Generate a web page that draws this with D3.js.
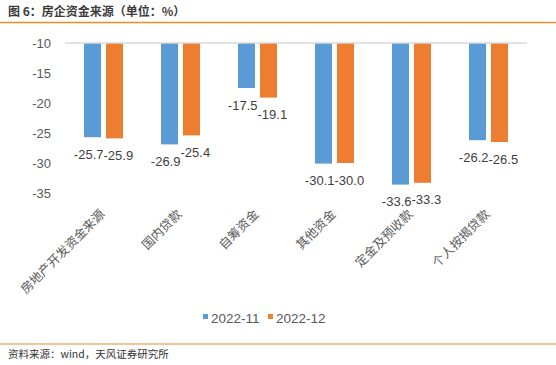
<!DOCTYPE html>
<html>
<head>
<meta charset="utf-8">
<script src="https://cdn.jsdelivr.net/npm/d3@7"></script>
<style>
  body { margin: 0; background: #fff; }
  text { font-family: "Noto Sans CJK SC", "DejaVu Sans", sans-serif; }
  text.num { font-family: "Liberation Sans", Arial, sans-serif; }
</style>
</head>
<body>
<svg id="chart" width="556" height="365"></svg>
<script>
const categories = ["房地产开发资金来源", "国内贷款", "自筹资金", "其他资金", "定金及预收款", "个人按揭贷款"];
const seriesNames = ["2022-11", "2022-12"];
const values_2022_11 = [-25.7, -26.9, -17.5, -30.1, -33.6, -26.2];
const values_2022_12 = [-25.9, -25.4, -19.1, -30.0, -33.3, -26.5];
const yTicks = [-10, -15, -20, -25, -30, -35];
const colors = ["#5B9BD5", "#ED7D31"];

const svg = d3.select("#chart");
const margin = { left: 65, right: 29 };
const W = 556;

// title + top rule
svg.append("text")
    .attr("x", 8).attr("y", 16)
    .attr("font-size", 12).attr("font-weight", "bold")
    .attr("fill", "#3a3a3a")
    .text("图 6：房企资金来源（单位：%）");
svg.append("line")
    .attr("x1", 0).attr("x2", W).attr("y1", 22.5).attr("y2", 22.5)
    .attr("stroke", "#F08A24").attr("stroke-width", 1.5);

const x0 = d3.scaleBand().domain(categories)
    .range([margin.left, W - margin.right]);
const x1 = d3.scaleBand().domain(seriesNames)
    .range([x0.bandwidth() / 2 - 19.5, x0.bandwidth() / 2 + 19.5]).paddingInner(0.227);
const y = d3.scaleLinear().domain([-10, -35]).range([43, 193]);

// y tick labels
svg.append("g").selectAll("text").data(yTicks).enter().append("text")
    .classed("num", true)
    .attr("x", 51).attr("y", d => y(d) + 5)
    .attr("text-anchor", "end")
    .attr("font-size", 13).attr("fill", "#595959")
    .text(d => d);

const data = categories.map((c, i) => ({
    cat: c,
    vals: [values_2022_11[i], values_2022_12[i]]
}));

const groups = svg.append("g").selectAll("g").data(data).enter().append("g")
    .attr("transform", d => "translate(" + x0(d.cat) + ",0)");

groups.selectAll("rect").data(d => d.vals.map((v, k) => ({ v: v, s: seriesNames[k], k: k })))
    .enter().append("rect")
    .attr("x", d => x1(d.s))
    .attr("width", x1.bandwidth())
    .attr("y", y(-10))
    .attr("height", d => y(d.v) - y(-10))
    .attr("fill", d => colors[d.k]);

// value labels under each bar; push the pair apart when they collide
groups.each(function (d) {
    let g = d3.select(this);
    let labels = d.vals.map((v, k) => g.append("text")
        .classed("num", true)
        .attr("x", x1(seriesNames[k]) + x1.bandwidth() / 2)
        .attr("y", y(v) + 21.5)
        .attr("text-anchor", "middle")
        .attr("font-size", 13).attr("fill", "#404040")
        .text(v.toFixed(1)));
    let dy = Math.abs(y(d.vals[0]) - y(d.vals[1]));
    if (dy < 13) {
        let w = (labels[0].node().getComputedTextLength() + labels[1].node().getComputedTextLength()) / 2;
        let gap = x1.step();
        let over = w - gap;
        if (over > 0) {
            labels[0].attr("x", +labels[0].attr("x") - over / 2);
            labels[1].attr("x", +labels[1].attr("x") + over / 2);
        }
    }
});

// category axis line at -10
svg.append("line")
    .attr("x1", margin.left).attr("x2", W - margin.right)
    .attr("y1", y(-10)).attr("y2", y(-10))
    .attr("stroke", "#D9D9D9").attr("stroke-width", 1.3);

// rotated category labels
svg.append("g").selectAll("text").data(categories).enter().append("text")
    .attr("transform", d => "translate(" + (x0(d) + x0.bandwidth() / 2 + 2) + ",215) rotate(-45)")
    .attr("text-anchor", "end")
    .attr("font-size", 12.5).attr("fill", "#595959")
    .text(d => d);

// legend
const legend = svg.append("g").attr("transform", "translate(203,319)");
const lx = [0, 65];
seriesNames.forEach((s, k) => {
    legend.append("rect")
        .attr("x", lx[k]).attr("y", -5)
        .attr("width", 5).attr("height", 5)
        .attr("fill", colors[k]);
    legend.append("text")
        .classed("num", true)
        .attr("x", lx[k] + 8).attr("y", 4)
        .attr("font-size", 13.5).attr("fill", "#595959")
        .text(s);
});

// bottom rule + source
svg.append("line")
    .attr("x1", 0).attr("x2", W).attr("y1", 344).attr("y2", 344)
    .attr("stroke", "#F08A24").attr("stroke-width", 1.2);
svg.append("text")
    .attr("x", 8).attr("y", 358)
    .attr("font-size", 10.5).attr("fill", "#333")
    .text("资料来源：wind，天风证券研究所");
</script>
</body>
</html>
